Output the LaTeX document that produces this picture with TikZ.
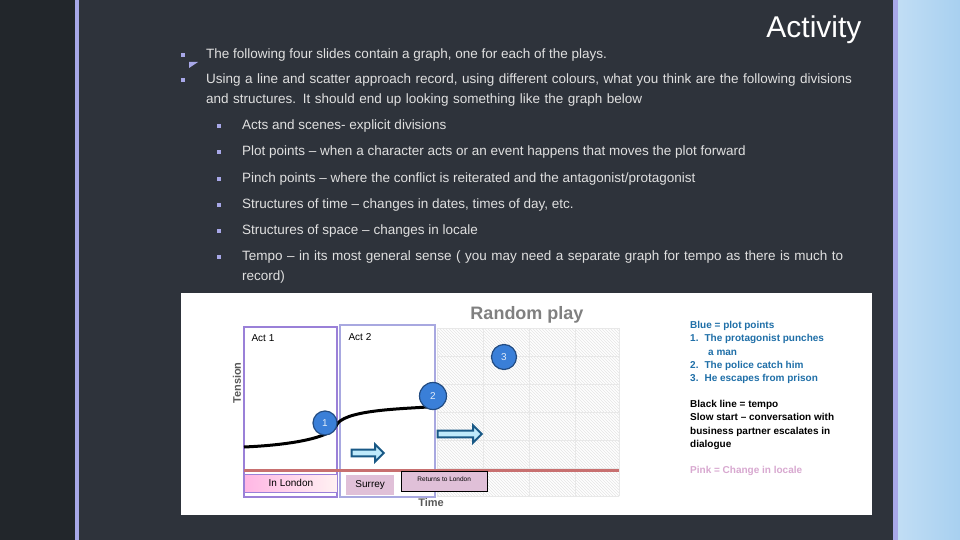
\documentclass[tikz,border=0pt]{standalone}
\usepackage{fontspec}
\setmainfont{Liberation Sans}
\usetikzlibrary{shapes.arrows,patterns}
\definecolor{bgmain}{HTML}{2E333B}
\definecolor{bgleft}{HTML}{22262B}
\definecolor{lav}{HTML}{A8A8E8}
\definecolor{txt}{HTML}{E0E0E0}
\definecolor{act1}{HTML}{9A80D8}
\definecolor{act2}{HTML}{A8A8E0}
\definecolor{pinkline}{HTML}{C87070}
\definecolor{ptblue}{HTML}{3A7FD8}
\definecolor{locpink}{HTML}{E0C0D8}
\definecolor{legblue}{HTML}{1F6FA8}
\definecolor{legpink}{HTML}{D8A8D0}
\definecolor{rpanel}{HTML}{A8D0F0}
\tikzset{
 bul/.style={fill=lav,minimum size=4pt,inner sep=0pt},
 btxt/.style={anchor=north west,text=txt,font=\fontsize{13.5}{20}\selectfont,inner sep=0pt,align=left},
 pt/.style={circle,fill=ptblue,draw=ptblue!60!black,line width=1.2pt,text=white!85!ptblue,font=\fontsize{10}{10}\selectfont,minimum size=24pt,inner sep=0pt},
 barrow/.style={single arrow,draw=legblue!80!black,line width=2pt,fill=cyan!25,minimum height=32pt,minimum width=17pt,single arrow head extend=3pt,inner sep=1pt},
 loc/.style={anchor=north west,font=\fontsize{10}{10}\selectfont,inner sep=3pt},
 leg/.style={anchor=north west,font=\bfseries\fontsize{10}{13.3}\selectfont,inner sep=0pt,align=left}
}
\begin{document}
\begin{tikzpicture}[x=1pt,y=-1pt]
\useasboundingbox (0,0) rectangle (960,540);
\fill[bgmain] (0,0) rectangle (960,540);
\fill[bgleft] (0,0) rectangle (75,540);
\fill[lav] (75,0) rectangle (79,540);
\shade[left color=rpanel!70!white,right color=rpanel] (895,0) rectangle (960,540);
\fill[lav] (893,0) rectangle (898,540);
\node[anchor=east,text=white,font=\fontsize{30}{30}\selectfont] (title) at (865,30) {Activity};
\fill[lav] (189,68) -- (198,62) -- (189,62) -- cycle;
\node[bul] (b1) at (183,55) {};
\node[btxt] (t1) at (206,49) {The following four slides contain a graph, one for each of the plays.};
\node[bul] (b2) at (183,80) {};
\node[btxt,text width=665pt] (t2) at (206,74) {Using a line and scatter approach record, using different colours, what you think are the following divisions and structures.  It should end up looking something like the graph below};
\foreach \y/\t [count=\i] in {126/{Acts and scenes- explicit divisions},152/{Plot points -- when a character acts or an event happens that moves the plot forward},179/{Pinch points -- where the conflict is reiterated and the antagonist/protagonist},205/{Structures of time -- changes in dates, times of day, etc.},231/{Structures of space -- changes in locale}}{
 \node[bul,minimum size=3.5pt] (s\i) at (219,\y) {};
 \node[btxt] (st\i) at (242,\y-6) {\t};
}
\node[bul,minimum size=3.5pt] (s6) at (219,257) {};
\node[btxt,text width=630pt] (st6) at (242,251) {Tempo -- in its most general sense ( you may need a separate graph for tempo as there is much to record)};
% graph panel
\fill[white] (181,293) rectangle (872,515);
\begin{scope}
\clip (437,328) rectangle (619,496);
\fill[pattern=north west lines,pattern color=gray!20] (437,328) rectangle (619,496);
\end{scope}
\foreach \x in {437,483,529,575,619} \draw[gray!18] (\x,328) -- (\x,496);
\foreach \y in {328,356,384,412,440,468,496} \draw[gray!18] (437,\y) -- (619,\y);
\node[text=gray,font=\bfseries\fontsize{18}{18}\selectfont] (rp) at (527,315) {Random play};
\node[rotate=90,text=gray!70!black,font=\bfseries\fontsize{11}{11}\selectfont] (ten) at (237,383) {Tension};
\node[text=gray!70!black,font=\bfseries\fontsize{11}{11}\selectfont] (time) at (431,503) {Time};
\draw[act1,line width=2.5pt] (244,327) rectangle (337,497);
\draw[act2,line width=2.5pt] (340,325) rectangle (435,497);
\node[anchor=north west,font=\fontsize{10}{10}\selectfont] (a1) at (248,331) {Act 1};
\node[anchor=north west,font=\fontsize{10}{10}\selectfont] (a2) at (345,330) {Act 2};
\draw[pinkline,line width=3pt] (244,470) -- (619,470);
\draw[line width=3pt] (244,447) .. controls (290,445) and (330,438) .. (336,426) .. controls (342,410) and (400,409) .. (427,407);
\node[pt] (p1) at (325,423) {1};
\node[pt,minimum size=27pt] (p2) at (433,396) {2};
\node[pt,minimum size=25pt] (p3) at (504,357) {3};
\node[barrow] (ar1) at (366,453) {};
\node[barrow,minimum height=44pt] (ar2) at (458,434) {};
\node[loc,draw=act1,line width=0.8pt,left color=pink!70!magenta!60,right color=pink!20,minimum width=93pt,minimum height=18pt] (lon) at (244,474) {In London};
\node[loc,fill=locpink,minimum width=48pt,minimum height=20pt] (sur) at (346,475) {Surrey};
\node[loc,draw=black,fill=locpink,font=\fontsize{6.5}{6.5}\selectfont,minimum width=86pt,minimum height=20pt,anchor=north west] (ret) at (401,471) {\raisebox{4pt}{Returns to London}};
\node[leg,text=legblue] (l1) at (690,321) {Blue = plot points\\1.\hspace{6pt}The protagonist punches\\\hspace{18pt}a man\\2.\hspace{6pt}The police catch him\\3.\hspace{6pt}He escapes from prison};
\node[leg,text=black] (l2) at (690,400) {Black line = tempo\\Slow start -- conversation with\\business partner escalates in\\dialogue};
\node[leg,text=legpink] (l3) at (690,466) {Pink = Change in locale};
\end{tikzpicture}
\end{document}
